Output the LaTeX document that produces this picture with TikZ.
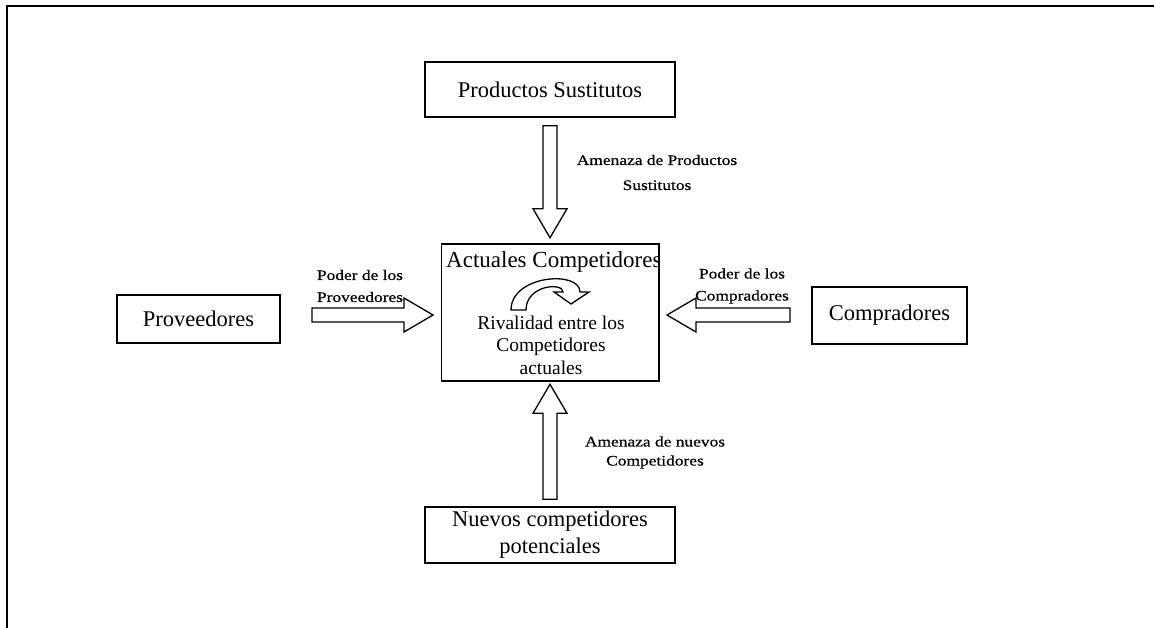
\documentclass[tikz,border=0pt]{standalone}
\usepackage{fontspec}
\setmainfont{Liberation Serif}
\newfontfamily\lblfont[FakeStretch=1.2, FakeBold=0.6]{Liberation Serif}
\usetikzlibrary{calc}

% outlined block arrow: tail coordinate, direction angle, total length
\newcommand\blockarrow[3]{%
  \draw[barrow, shift={(#1)}, rotate=#2]
    (0,-7) -- (#3-29,-7) -- (#3-29,-17) -- (#3,0) -- (#3-29,17)
    -- (#3-29,7) -- (0,7) -- cycle;}

\begin{document}
\begin{tikzpicture}[x=1pt, y=-1pt,
  box/.style={draw, line width=1.5pt, rectangle, inner sep=0pt, align=center,
    font=\fontsize{22.5}{27}\selectfont},
  barrow/.style={draw, line width=1.3pt, line join=miter, fill=white},
  lbl/.style={inner sep=0pt, align=center, font=\lblfont\fontsize{14.5}{#1}\selectfont},
  lbl/.default=22]

\useasboundingbox (0,0) rectangle (1154,628);
\clip (0,0) rectangle (1154,628);

% outer frame
\draw[line width=2pt] (7,640) -- (7,6) -- (1170,6);

% the five boxes
\node[box, minimum width=250pt, minimum height=55pt] (sust) at (550,89.5) {Productos Sustitutos};
\node[box, draw=none, minimum width=216pt, minimum height=135pt] (act) at (550,312.5) {};
\node[box, minimum width=250pt, minimum height=56pt] (nuevos) at (550,535) {Nuevos competidores\\potenciales};
\node[box, minimum width=163pt, minimum height=48pt] (prov) at (198.5,319) {Proveedores};
\node[box, minimum width=155pt, minimum height=57pt] (comp) at (889.5,315.5) {Compradores};

% contents of the central box: the heading is cut by the frame
\begin{scope}
  \clip (act.south west) rectangle (act.north east);
  \node[anchor=west, inner sep=0pt, font=\fontsize{23}{27}\selectfont] (acttitle) at (446,262) {Actuales Competidores};
\end{scope}
\draw[line width=1.5pt] (act.south west) rectangle (act.north east);
\node[inner sep=0pt, align=center, font=\fontsize{19.5}{22.5}\selectfont] (rival) at (551,345)
  {Rivalidad entre los\\Competidores\\actuales};

% curved rivalry arrow
\draw[line width=1.3pt, line join=miter, fill=white]
  (511,310) .. controls (511,275) and (580,270) .. (580,292)
  -- (589,292) -- (571,304) -- (554,292) -- (563,292)
  .. controls (563,282) and (526,285) .. (526,310) -- cycle;

% block arrows towards the central box
\coordinate (tsust) at ($(sust.south)+(0,8)$);
\coordinate (tnuev) at ($(nuevos.north)+(0,-7)$);
\coordinate (tprov) at (312,315);
\coordinate (tcomp) at (790,315);
\blockarrow{tsust}{-90}{112}
\blockarrow{tnuev}{90}{115}
\blockarrow{tprov}{0}{121}
\blockarrow{tcomp}{180}{123}

% arrow labels
\node[lbl=25] (lsust) at (657,172.5) {Amenaza de Productos\\Sustitutos};
\node[lbl=19] (lnuev) at (655,452.5) {Amenaza de nuevos\\Competidores};
\node[lbl] (lprov) at (360,286) {Poder de los\\Proveedores};
\node[lbl] (lcomp) at (742,286) {Poder de los\\Compradores};
\end{tikzpicture}
\end{document}
